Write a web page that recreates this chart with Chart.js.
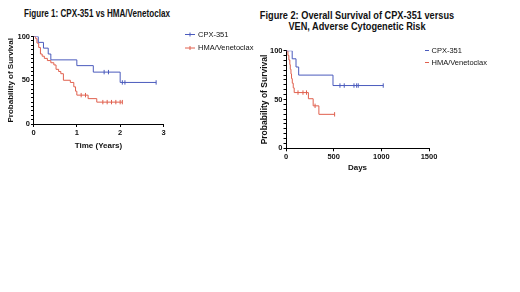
<!DOCTYPE html>
<html><head><meta charset="utf-8">
<script src="https://cdn.jsdelivr.net/npm/chart.js@4.4.1/dist/chart.umd.min.js"></script>
<style>
html,body{margin:0;padding:0;background:#fff;width:520px;height:292px;overflow:hidden;}
.c{position:absolute;}
.t{position:absolute;font-family:"Liberation Sans",Arial,sans-serif;font-weight:bold;color:#111;text-align:center;white-space:nowrap;font-size:10px;line-height:11px;transform-origin:50% 50%;}
</style></head><body>
<div class="t" id="t1" style="left:-3px;top:7.5px;width:200px;transform:scaleX(0.81);"></div>
<div class="t" id="t2" style="left:227px;top:9.5px;width:260px;transform:scaleX(0.92);"></div>
<div class="c" style="left:0;top:0;width:260px;height:160px"><canvas id="c1"></canvas></div>
<div class="c" style="left:255px;top:0;width:265px;height:180px"><canvas id="c2"></canvas></div>
<script>
// ---- Titles / labels ----
const fig1Title = ['Figure 1: CPX-351 vs HMA/Venetoclax'];
const fig2Title = ['Figure 2: Overall Survival of CPX-351 versus', 'VEN, Adverse Cytogenetic Risk'];
const seriesNames = ['CPX-351', 'HMA/Venetoclax'];
const yTitle = 'Probability of Survival';
const fig1XTitle = 'Time (Years)';
const fig2XTitle = 'Days';
const fig1XTicks = [0, 1, 2, 3];
const fig2XTicks = [0, 500, 1000, 1500];
const yTickLabels = [0, 50, 100];

// ---- Figure 1 data (time in years, survival %) ----
const cpx1Times = [0, 0.11, 0.23, 0.34, 0.40, 1.00, 1.38, 2.00, 2.83];
const cpx1Surv  = [100, 93.3, 86.7, 80.0, 73.3, 66.7, 59.3, 47.5, 47.5];
const cpx1Censor = [1.63, 1.73, 2.05, 2.11, 2.83];

const hma1Times = [0, 0.05, 0.08, 0.12, 0.16, 0.20, 0.25, 0.32, 0.40, 0.47, 0.52, 0.58, 0.63, 0.69, 0.85, 0.93, 0.97, 1.00, 1.26, 1.46, 2.05];
const hma1Surv  = [100, 97.5, 92.5, 87.5, 80.0, 77.5, 75.0, 72.5, 70.0, 67.5, 62.5, 60.0, 57.5, 50.0, 47.5, 42.5, 37.5, 33.0, 29.0, 25.0, 25.0];
const hma1Censor = [1.10, 1.20, 1.60, 1.70, 1.80, 1.90, 2.00, 2.05];

// ---- Figure 2 data (days, survival %) ----
const cpx2Times = [0, 65, 105, 133, 493, 1020];
const cpx2Surv  = [100, 91.7, 83.3, 75.0, 64.3, 64.3];
const cpx2Censor = [566, 611, 713, 741, 758, 1020];

const hma2Times = [0, 20, 30, 40, 45, 52, 58, 66, 76, 86, 235, 285, 345, 510];
const hma2Surv  = [100, 95.2, 90.5, 85.7, 81.0, 76.2, 71.4, 66.7, 61.9, 57.1, 50.8, 43.5, 34.8, 34.8];
const hma2Censor = [126, 178, 215, 305, 510];

const BLUE = '#4b5bbd';
const RED = '#e0604e';
const INK = '#111111';

document.getElementById('t1').innerHTML = fig1Title.join('<br>');
document.getElementById('t2').innerHTML = fig2Title.join('<br>');

function survAt(times, surv, t) {
  let v = surv[0];
  for (let i = 0; i < times.length; i++) { if (times[i] <= t) v = surv[i]; }
  return v;
}
function kmDatasets(name, times, surv, censor, color) {
  return [
    { label: name, isMain: true, data: times.map((t, i) => ({x: t, y: surv[i]})),
      showLine: true, stepped: 'before', borderColor: color, backgroundColor: color,
      borderWidth: 1, pointRadius: 0, fill: false },
    { label: name + ' censored', isMain: false, data: censor.map(t => ({x: t, y: survAt(times, surv, t)})),
      showLine: false, pointStyle: 'line', rotation: 90, pointRadius: 2.2,
      borderColor: color, backgroundColor: color, pointBorderWidth: 1 }
  ];
}

const legendPlugin = {
  id: 'kmLegend',
  afterDraw(chart, args, o) {
    const ctx = chart.ctx;
    ctx.save();
    let row = 0;
    chart.data.datasets.forEach(ds => {
      if (!ds.isMain) return;
      const y = o.y0 + row * o.dy;
      ctx.strokeStyle = ds.borderColor;
      ctx.lineWidth = 1;
      ctx.beginPath();
      ctx.moveTo(o.x0, y); ctx.lineTo(o.x1, y);
      if (o.tick) { const m = (o.x0 + o.x1) / 2; ctx.moveTo(m, y - 2); ctx.lineTo(m, y + 2); }
      ctx.stroke();
      ctx.fillStyle = INK;
      ctx.font = o.font;
      ctx.textBaseline = 'middle';
      ctx.textAlign = 'left';
      ctx.fillText(ds.label, o.tx, y);
      row++;
    });
    ctx.restore();
  }
};

function makeChart(id, datasets, cfg) {
  const tickFont = {family: '"Liberation Sans", Arial, sans-serif', size: 7.5, weight: 'bold'};
  return new Chart(document.getElementById(id), {
    type: 'scatter',
    data: { datasets },
    plugins: [legendPlugin],
    options: {
      responsive: true, maintainAspectRatio: false, animation: false,
      layout: { padding: cfg.padding },
      plugins: { legend: {display: false}, title: {display: false}, tooltip: {enabled: false},
        kmLegend: cfg.legend },
      scales: {
        x: {
          type: 'linear', min: 0, max: cfg.xMax,
          afterBuildTicks: s => { s.ticks = cfg.xTicks.map(v => ({value: v})); },
          ticks: { font: tickFont, color: INK, padding: 1, maxRotation: 0, autoSkip: false,
            callback: v => String(v) },
          grid: { drawOnChartArea: false, drawTicks: true, tickLength: 3, color: '#000', lineWidth: 1 },
          border: { display: true, color: '#000', width: 1 },
          title: { display: true, text: cfg.xTitle, color: INK,
            font: {family: '"Liberation Sans", Arial, sans-serif', size: 8, weight: 'bold'},
            padding: {top: 0, bottom: cfg.xTitlePad} },
          afterFit: s => { s.height = cfg.xHeight; }
        },
        y: {
          type: 'linear', min: 0, max: 100,
          ticks: { stepSize: 5, autoSkip: false, font: tickFont, color: INK, padding: 1,
            callback: v => (yTickLabels.includes(v) ? String(v) : '') },
          grid: { drawOnChartArea: false, drawTicks: true, tickLength: 2.5, color: '#000', lineWidth: 1 },
          border: { display: true, color: '#000', width: 1 },
          title: { display: true, text: yTitle, color: INK,
            font: {family: '"Liberation Sans", Arial, sans-serif', size: cfg.yTitleSize, weight: 'bold'},
            padding: {top: cfg.yTitlePad, bottom: 0} },
          afterFit: s => { s.width = cfg.yWidth; }
        }
      }
    }
  });
}

makeChart('c1',
  [...kmDatasets(seriesNames[0], cpx1Times, cpx1Surv, cpx1Censor, BLUE),
   ...kmDatasets(seriesNames[1], hma1Times, hma1Surv, hma1Censor, RED)],
  { padding: {left: 0, top: 36.5, right: 96.5, bottom: 0},
    xMax: 3, xTicks: fig1XTicks, xTitle: fig1XTitle, xTitlePad: 9, xHeight: 36,
    yWidth: 33.5, yTitlePad: 6, yTitleSize: 8,
    legend: {x0: 185, x1: 195, tick: true, tx: 198, y0: 34.5, dy: 13.5,
      font: '7.5px "Liberation Sans", Arial, sans-serif'} });

makeChart('c2',
  [...kmDatasets(seriesNames[0], cpx2Times, cpx2Surv, cpx2Censor, BLUE),
   ...kmDatasets(seriesNames[1], hma2Times, hma2Surv, hma2Censor, RED)],
  { padding: {left: 0, top: 50.7, right: 91, bottom: 0},
    xMax: 1500, xTicks: fig2XTicks, xTitle: fig2XTitle, xTitlePad: 7.5, xHeight: 31.7,
    yWidth: 31, yTitlePad: 5, yTitleSize: 8.5,
    legend: {x0: 170, x1: 174, tick: false, tx: 176.5, y0: 50.5, dy: 12,
      font: '7.5px "Liberation Sans", Arial, sans-serif'} });
</script>
</body></html>
